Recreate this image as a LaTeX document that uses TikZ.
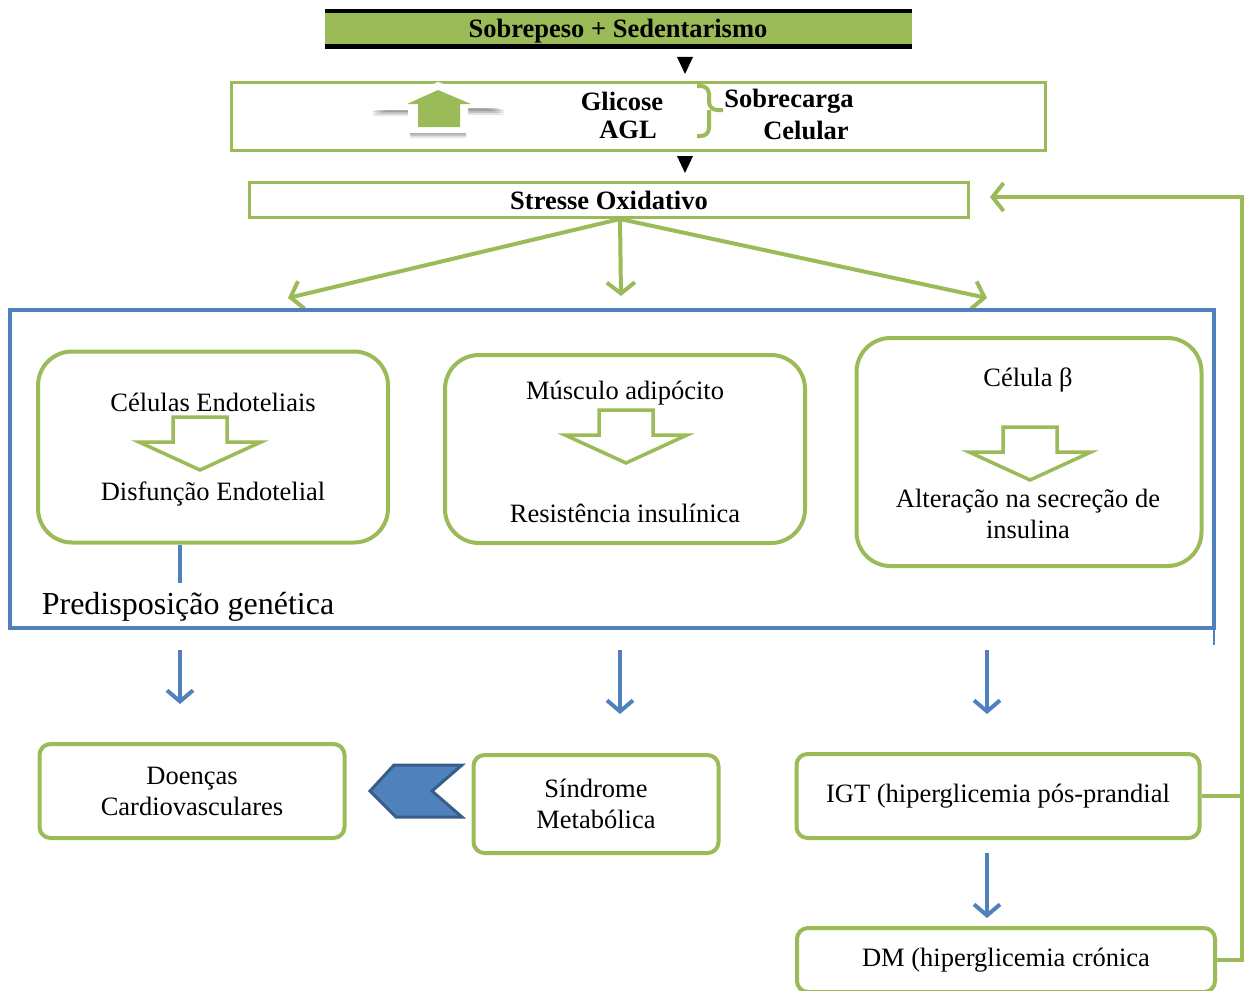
\documentclass[tikz,border=0pt]{standalone}
\usepackage{fontspec}
\setmainfont{Liberation Serif}
\usetikzlibrary{arrows.meta}
\definecolor{verde}{HTML}{9BBB59}
\definecolor{azul}{HTML}{4F81BD}
\definecolor{azulesc}{HTML}{385D8A}
\tikzset{
  setaoca/.pic={\draw[verde, line width=3.5, fill=white, line join=miter]
    (-27,0) -- (27,0) -- (27,25) -- (61,25) -- (0,53) -- (-61,25) -- (-27,25) -- cycle;}
}
\begin{document}
\begin{tikzpicture}[x=1pt,y=-1pt,
  caixa/.style={draw=verde, line width=4, fill=white, rounded corners=34, inner sep=0},
  caixinha/.style={draw=verde, line width=4, fill=white, rounded corners=11, inner sep=0,
    font=\fontsize{26.5}{31}\selectfont, align=center},
  retangulo/.style={draw=verde, line width=3, fill=white, inner sep=0},
  texto/.style={font=\fontsize{26.5}{31}\selectfont, align=center, inner sep=0},
  negrito/.style={font=\fontsize{26.5}{31}\selectfont\bfseries, align=center, inner sep=0},
  setaverde/.style={draw=verde, line width=4, -{Straight Barb[length=11pt, width=28pt]}},
  setaazul/.style={draw=azul, line width=4, -{Straight Barb[length=11pt, width=26pt]}},
  chave/.style={draw=verde, line width=4, rounded corners=8},
  triangulo/.style={fill=black}]
\useasboundingbox (0,0) rectangle (1244,990);

% topo
\node[fill=verde, minimum width=587, minimum height=37, inner sep=0] (topo) at (618,29) {};
\draw[line width=4] (325,11) -- (912,11);
\draw[line width=5] (325,47) -- (912,47);
\node[negrito] at (618,31) {Sobrepeso + Sedentarismo};
\fill[triangulo] (677,57) -- (693,57) -- (685,74) -- cycle;

% glicose / AGL
\node[retangulo, minimum width=814, minimum height=68] (carga) at (638,116) {};
\foreach \d/\o in {6/0.10, 4/0.14, 2/0.18}
  \fill[black, opacity=\o, shift={(0,\d)}]
    (438,84) -- (505,109) -- (466,109) -- (466,132) -- (410,132) -- (410,110) -- (372,110) -- cycle;
\fill[white] (438,82) -- (508,108) -- (468,108) -- (468,133) -- (408,133) -- (408,110) -- (370,110) -- cycle;
\fill[verde] (438,90) -- (471,104) -- (460,104) -- (460,127) -- (418,127) -- (418,104) -- (407,104) -- cycle;
\node[negrito] (glicose) at (622,101) {Glicose};
\node[negrito] (agl) at (628,130) {AGL};
\draw[chave] (697,86) -| (709,110) -- (723,110);
\draw[chave] (697,136) -| (709,110);
\node[negrito] (sobrecarga) at (789,101) {Sobrecarga};
\node[negrito] (celular) at (806,130) {Celular};
\fill[triangulo] (677,156) -- (693,156) -- (685,173) -- cycle;

% stresse
\node[retangulo, minimum width=719, minimum height=35] (stress) at (609,200) {};
\node[negrito] at (stress) {Stresse Oxidativo};
\coordinate (alvoA) at (288,298);
\coordinate (alvoB) at (621,296);
\coordinate (alvoC) at (987,298);
\draw[setaverde] ([xshift=11pt]stress.south) -- (alvoA);
\draw[setaverde] ([xshift=11pt]stress.south) -- (alvoB);
\draw[setaverde] ([xshift=11pt]stress.south) -- (alvoC);

% predisposicao
\draw[azul, line width=4] (10,310) rectangle (1214,628);
\draw[azul, line width=2] (1214,628) -- (1214,645);
\node[caixa, minimum width=350, minimum height=191] (endo) at (213,447) {};
\node[texto] at (213,402) {Células Endoteliais};
\pic at (200,417) {setaoca};
\node[texto] at (213,494) {Disfunção Endotelial};
\node[caixa, minimum width=360, minimum height=188] (musc) at (625,449) {};
\node[texto] at (625,393) {Músculo adipócito};
\pic at (626,410) {setaoca};
\node[texto] at (625,513) {Resistência insulínica};
\node[caixa, minimum width=345, minimum height=228] (beta) at (1029,452) {};
\node[texto] at (1028,380) {Célula β};
\pic at (1030,427) {setaoca};
\node[texto] at (1028,514) {Alteração na secreção de\\insulina};
\draw[azul, line width=4] (endo.south -| 180,0) -- (180,583);
\node[font=\fontsize{32}{38}\selectfont, inner sep=0] (genet) at (188,607) {Predisposição genética};

% setas azuis
\coordinate (saiA) at (180,650); \coordinate (chegaA) at (180,704);
\coordinate (saiB) at (620,650); \coordinate (chegaB) at (620,714);
\coordinate (saiC) at (987,650); \coordinate (chegaC) at (987,714);
\draw[setaazul] (saiA) -- (chegaA);
\draw[setaazul] (saiB) -- (chegaB);
\draw[setaazul] (saiC) -- (chegaC);

% caixas de baixo
\node[caixinha, minimum width=305, minimum height=94] (doencas) at (192,791) {Doenças\\Cardiovasculares};
\node[caixinha, minimum width=245, minimum height=98] (sindrome) at (596,804) {Síndrome\\Metabólica};
\filldraw[fill=azul, draw=azulesc, line width=3, line join=miter]
  (462,765) -- (394,765) -- (370,791) -- (396,817) -- (462,817) -- (432,791) -- cycle;
\node[caixinha, minimum width=403, minimum height=84] (igt) at (998,796) {IGT (hiperglicemia pós-prandial};
\coordinate (saiD) at (987,853); \coordinate (chegaD) at (987,918);
\draw[setaazul] (saiD) -- (chegaD);
\node[caixinha, minimum width=418, minimum height=64] (dm) at (1006,960) {DM (hiperglicemia crónica};

% retorno
\coordinate (retA) at (1242,197);
\coordinate (retB) at (990,197);
\draw[verde, line width=4] (igt.east) -- (igt.east -| retA);
\draw[setaverde] (dm.east) -- (dm.east -| retA) -- (retA) -- (retB);
\end{tikzpicture}
\end{document}
